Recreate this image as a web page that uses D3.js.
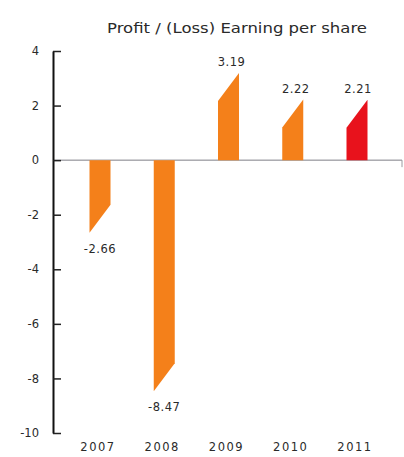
<!DOCTYPE html>
<html>
<head>
<meta charset="utf-8">
<script src="https://cdn.jsdelivr.net/npm/d3@7"></script>
<style>
  html, body { margin: 0; padding: 0; background: #fff; }
  svg { display: block; }
  text { font-family: "DejaVu Sans", "Noto Sans", sans-serif; fill: #2a2a2a; }
</style>
</head>
<body>
<svg id="chart" width="404" height="457"></svg>
<script>
// Earnings per share by year
const years = ["2007", "2008", "2009", "2010", "2011"];
const eps = [-2.66, -8.47, 3.19, 2.22, 2.21];
const valueLabels = ["-2.66", "-8.47", "3.19", "2.22", "2.21"];
const barColors = ["#f4801a", "#f4801a", "#f4801a", "#f4801a", "#e8121c"];
const yTicks = [4, 2, 0, -2, -4, -6, -8, -10];
const title = "Profit / (Loss) Earning per share";

const svg = d3.select("#chart");

const axisX = 53;
const y = d3.scaleLinear().domain([-10, 4]).range([433, 51]);
const x = d3.scalePoint().domain(years).range([100, 357]);
const barW = 21;
const bevel = 28; // the short side of each bar is cut on a slant

// title
svg.append("text")
  .attr("x", 107).attr("y", 33)
  .attr("textLength", 260).attr("lengthAdjust", "spacingAndGlyphs")
  .style("font-size", "13.5px")
  .text(title);

// zero baseline
svg.append("line")
  .attr("x1", axisX).attr("x2", 402)
  .attr("y1", y(0)).attr("y2", y(0))
  .attr("stroke", "#7f7f86").attr("stroke-width", 1);
svg.append("line")
  .attr("x1", 402).attr("x2", 402)
  .attr("y1", y(0)).attr("y2", y(0) + 7)
  .attr("stroke", "#9a9aa0").attr("stroke-width", 1);

// bars with slanted ends
const data = years.map((yr, i) => ({ yr, v: eps[i], label: valueLabels[i], color: barColors[i] }));

svg.append("g").selectAll("path")
  .data(data)
  .join("path")
  .attr("fill", d => d.color)
  .attr("d", d => {
    const x0 = x(d.yr) - barW / 2, x1 = x(d.yr) + barW / 2;
    const y0 = y(0), yv = y(d.v);
    if (d.v >= 0) {
      return `M${x0},${y0}L${x0},${yv + bevel}L${x1},${yv}L${x1},${y0}Z`;
    }
    return `M${x0},${y0}L${x0},${yv}L${x1},${yv - bevel}L${x1},${y0}Z`;
  });

// value labels
svg.append("g").selectAll("text")
  .data(data)
  .join("text")
  .attr("text-anchor", "middle")
  .attr("x", (d, i) => x(d.yr) + (d.v >= 0 ? 3 : 0) - (i === 4 ? 2 : 0))
  .attr("y", d => d.v >= 0 ? y(d.v) - 7 : y(d.v) + 20)
  .style("font-size", "11.5px")
  .style("letter-spacing", "0.5px")
  .text(d => d.label);

// y axis with ticks pointing into the plot
const axis = d3.axisLeft(y)
  .tickValues(yTicks)
  .tickFormat(d => String(d))
  .tickSizeInner(-8)
  .tickSizeOuter(0)
  .tickPadding(14);

const gy = svg.append("g").attr("transform", `translate(${axisX},0)`).call(axis);
gy.select(".domain").attr("stroke", "#111").attr("stroke-width", 2);
gy.selectAll(".tick line").attr("stroke", "#222").attr("stroke-width", 1.5);
gy.selectAll(".tick text")
  .style("font-size", "11.5px")
  .style("font-family", "\"DejaVu Sans\", sans-serif")
  .attr("fill", "#2a2a2a");

// year labels
svg.append("g").selectAll("text")
  .data(years)
  .join("text")
  .attr("text-anchor", "middle")
  .attr("x", d => x(d) - 2)
  .attr("y", 451)
  .style("font-size", "11.5px")
  .style("letter-spacing", "1.5px")
  .text(d => d);
</script>
</body>
</html>
